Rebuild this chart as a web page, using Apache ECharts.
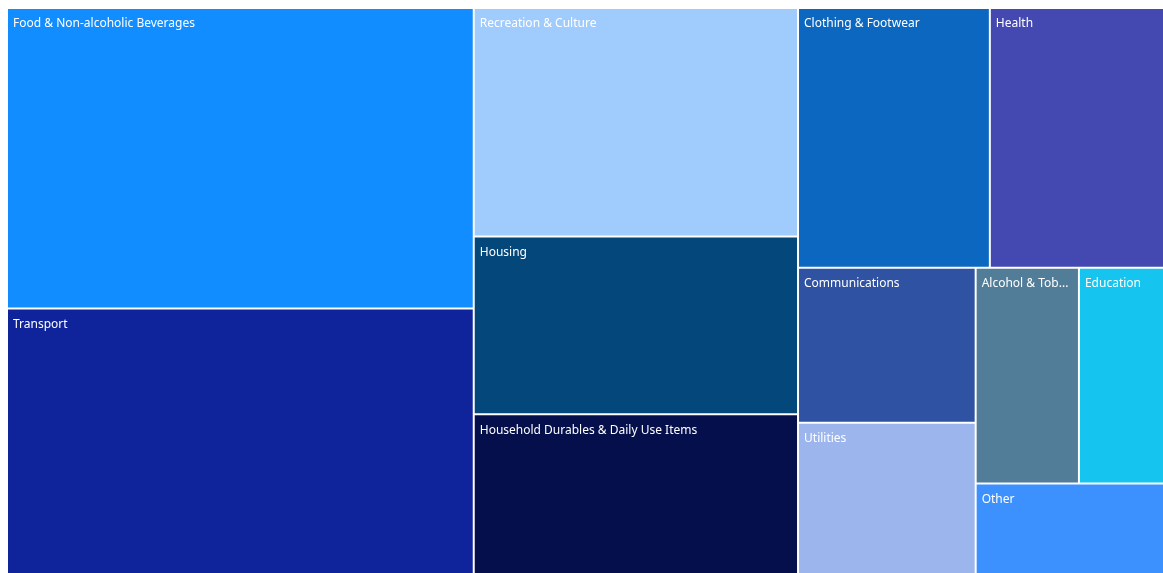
<!DOCTYPE html>
<html>
<head>
<meta charset="utf-8">
<script src="https://cdn.jsdelivr.net/npm/echarts@6/dist/echarts.min.js"></script>
<style>
html,body{margin:0;padding:0;background:#fff;}
#c{width:1163px;height:573px;}
</style>
</head>
<body>
<div id="c"></div>
<script>
const categories = ["Food & Non-alcoholic Beverages","Transport","Recreation & Culture","Housing","Household Durables & Daily Use Items","Clothing & Footwear","Health","Communications","Utilities","Alcohol & Tobacco","Education","Other"];
const values = [21.4,18.9,11.3,8.8,7.9,7.6,6.9,4.2,4.1,3.4,2.8,2.6];
const colors = ["#118DFF","#0F239B","#A0CBFD","#04477A","#050F4B","#0B67BF","#4349B0","#2F52A3","#9CB5EC","#527D99","#15C5EF","#3C91FF"];

const chart = echarts.init(document.getElementById('c'), null, {renderer:'canvas'});
chart.setOption({
  animation:false,
  series:[{
    type:'treemap',
    left:8, top:9, width:1155, height:564,
    roam:false, nodeClick:false,
    breadcrumb:{show:false},
    sort:'desc',
    itemStyle:{gapWidth:2, borderWidth:0, borderColor:'#fff'},
    levels:[{itemStyle:{gapWidth:2, borderWidth:0, borderColor:'#fff'}}],
    label:{show:true, position:[0,4], color:'#fff', fontSize:12, fontFamily:'"Noto Sans", sans-serif', overflow:'truncate', ellipsis:'...'},
    emphasis:{disabled:true},
    data: categories.map((n,i)=>({name:n, value:values[i], itemStyle:{color:colors[i]}}))
  }]
});
</script>
</body>
</html>
